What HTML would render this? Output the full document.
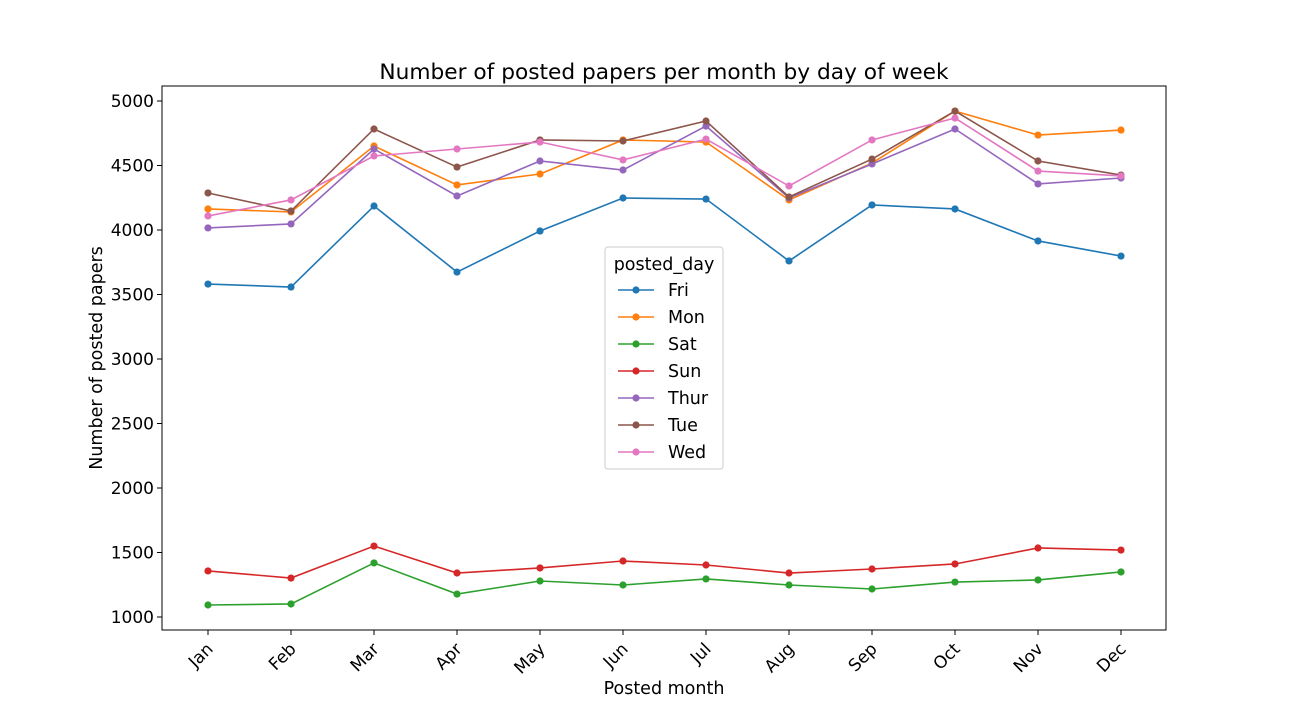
<!DOCTYPE html>
<html><head><meta charset="utf-8">
<style>body{margin:0;background:#fff;}svg{display:block;font-family:"DejaVu Sans","Liberation Sans",sans-serif;}</style>
</head><body>
<svg id="chart" width="1296" height="720"></svg>
<script>
const months = ["Jan","Feb","Mar","Apr","May","Jun","Jul","Aug","Sep","Oct","Nov","Dec"];
const fri = [3581,3558,4186,3674,3992,4248,4240,3760,4194,4163,3915,3798];
const mon = [4163,4140,4651,4349,4434,4698,4682,4233,4519,4922,4736,4775];
const sat = [1093,1101,1419,1178,1279,1248,1295,1248,1217,1271,1287,1349];
const sun = [1357,1302,1550,1341,1380,1434,1403,1341,1372,1411,1535,1519];
const thur = [4016,4047,4628,4264,4535,4465,4806,4248,4512,4783,4357,4403];
const tue = [4287,4147,4783,4488,4698,4690,4845,4256,4550,4922,4535,4426];
const wed = [4109,4233,4574,4628,4682,4543,4705,4341,4698,4868,4457,4419];
const yTicks = [1000,1500,2000,2500,3000,3500,4000,4500,5000];
const seriesNames = ["Fri","Mon","Sat","Sun","Thur","Tue","Wed"];
const seriesData = [fri,mon,sat,sun,thur,tue,wed];
const colors = ["#1f77b4","#ff7f0e","#2ca02c","#d62728","#9467bd","#8c564b","#e377c2"];

const NS="http://www.w3.org/2000/svg";
const svg=document.getElementById('chart');
const L=162,R=1166,T=86,B=630;
const x=i=>208+i*(1121-208)/(months.length-1);
const y=v=>617-(v-1000)*(516/4000);
function mk(tag,attrs,parent){const e=document.createElementNS(NS,tag);for(const k in attrs)e.setAttribute(k,attrs[k]);(parent||svg).appendChild(e);return e;}

const title=mk('text',{x:664,y:79,'text-anchor':'middle','font-size':21.7});
title.textContent="Number of posted papers per month by day of week";



seriesData.forEach((d,s)=>{
  const g=mk('g',{});
  
  
  mk('polyline',{points:d.map((v,i)=>x(i)+','+y(v)).join(' '),fill:'none',stroke:colors[s],'stroke-width':1.6},g);
  d.forEach((v,i)=>{
    const c=mk('circle',{cx:x(i),cy:y(v),r:3.6,fill:colors[s]},g);
    
    
  });
});

const frame=mk('rect',{x:L,y:T,width:R-L,height:B-T,fill:'none',stroke:'#000','stroke-width':1});



yTicks.forEach(t=>{
  mk('line',{x1:L-5,x2:L,y1:y(t),y2:y(t),stroke:'#000'});
  const tx=mk('text',{x:L-8,y:y(t)+6,'text-anchor':'end','font-size':17});
  tx.textContent=t;
  
  
});
months.forEach((m,i)=>{
  mk('line',{x1:x(i),x2:x(i),y1:B,y2:B+5,stroke:'#000'});
  const tx=mk('text',{x:x(i)+6,y:B+20,'text-anchor':'end','font-size':17,transform:'rotate(-45 '+(x(i)+6)+' '+(B+20)+')'});
  tx.textContent=m;
  
  
});
const xt=mk('text',{x:664,y:694,'text-anchor':'middle','font-size':17.5});
xt.textContent="Posted month";


const yt=mk('text',{x:102,y:358,'text-anchor':'middle','font-size':17.5,transform:'rotate(-90 102 358)'});
yt.textContent="Number of posted papers";



const lg=mk('g',{});


mk('rect',{x:605,y:247,width:118,height:222,rx:3,fill:'#fff','fill-opacity':0.8,stroke:'#ccc'},lg);
const lt=mk('text',{x:664,y:270,'text-anchor':'middle','font-size':17.5},lg);
lt.textContent="posted_day";
seriesNames.forEach((n,s)=>{
  const yy=290+s*27;
  const e=mk('g',{},lg);
  
  
  mk('line',{x1:618,x2:654,y1:yy,y2:yy,stroke:colors[s],'stroke-width':1.6},e);
  mk('circle',{cx:636,cy:yy,r:3.6,fill:colors[s]},e);
  const t=mk('text',{x:668,y:yy+6,'font-size':17.5},e);
  t.textContent=n;
});
</script>
</body></html>
